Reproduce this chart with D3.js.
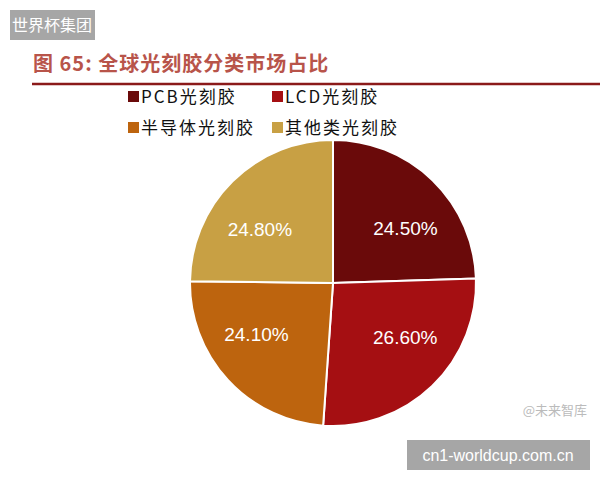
<!DOCTYPE html><html><head><meta charset="utf-8"><script src="https://cdn.jsdelivr.net/npm/d3@7"></script>
<style>body{margin:0;background:#fff}</style></head><body><svg id="c" width="600" height="480"></svg>
<script>
const categories=["PCB光刻胶","LCD光刻胶","半导体光刻胶","其他类光刻胶"];
const values=[24.5,26.6,24.1,24.8];
const labels=["24.50%","26.60%","24.10%","24.80%"];
const colors=["#6a0a0a","#a50f12","#bd640e","#c8a044"];
const svg=d3.select("#c");
const F="'Noto Sans CJK SC',sans-serif";
svg.append("rect").attr("x",10).attr("y",10).attr("width",85).attr("height",30).attr("fill","#a6a6a6");
svg.append("text").attr("x",52).attr("y",31).attr("text-anchor","middle").attr("fill","#fff").attr("font-size",16).attr("font-family",F).text("世界杯集团");
svg.append("text").attr("x",33).attr("y",71).attr("fill","#b8544a").attr("font-size",20).attr("font-weight","bold").attr("letter-spacing",1).attr("font-family",F).text("图 65:  全球光刻胶分类市场占比");
svg.append("line").attr("x1",32).attr("x2",600).attr("y1",84).attr("y2",84).attr("stroke","#8b1a1a").attr("stroke-width",2.5);
const lg=[[128,97],[272,97],[128,128],[272,128]];
categories.forEach((c,i)=>{
 svg.append("rect").attr("x",lg[i][0]).attr("y",lg[i][1]-6).attr("width",11).attr("height",11).attr("fill",colors[i]);
 svg.append("text").attr("x",lg[i][0]+13).attr("y",lg[i][1]+6).attr("font-size",17).attr("letter-spacing",2).attr("font-family",F).attr("fill","#111").text(c);
});
const cx=333,cy=283,r=143;
const pie=d3.pie().sort(null)(values);
const arc=d3.arc().innerRadius(0).outerRadius(r);
const g=svg.append("g").attr("transform",`translate(${cx},${cy})`);
g.selectAll("path").data(pie).join("path").attr("d",arc).attr("fill",(d,i)=>colors[i]).attr("stroke","#fff").attr("stroke-width",2);
const la=d3.arc().innerRadius(r*0.7).outerRadius(r*0.7);
g.selectAll("text").data(pie).join("text").attr("transform",d=>{const c=la.centroid(d);return `translate(${c[0]*1.04},${c[1]*0.76})`;}).attr("text-anchor","middle").attr("dy","0.35em").attr("fill","#fff").attr("font-size",19).attr("font-family","Arial,'Liberation Sans',sans-serif").text((d,i)=>labels[i]);
svg.append("text").attr("x",587).attr("y",415).attr("text-anchor","end").attr("fill","#bbb").attr("font-size",13).attr("font-family",F).text("@未来智库");
svg.append("rect").attr("x",407).attr("y",440).attr("width",183).attr("height",30).attr("fill","#a6a6a6");
svg.append("text").attr("x",498).attr("y",461).attr("text-anchor","middle").attr("fill","#fff").attr("font-size",16).attr("font-family","Arial,'Liberation Sans',sans-serif").text("cn1-worldcup.com.cn");
</script></body></html>
